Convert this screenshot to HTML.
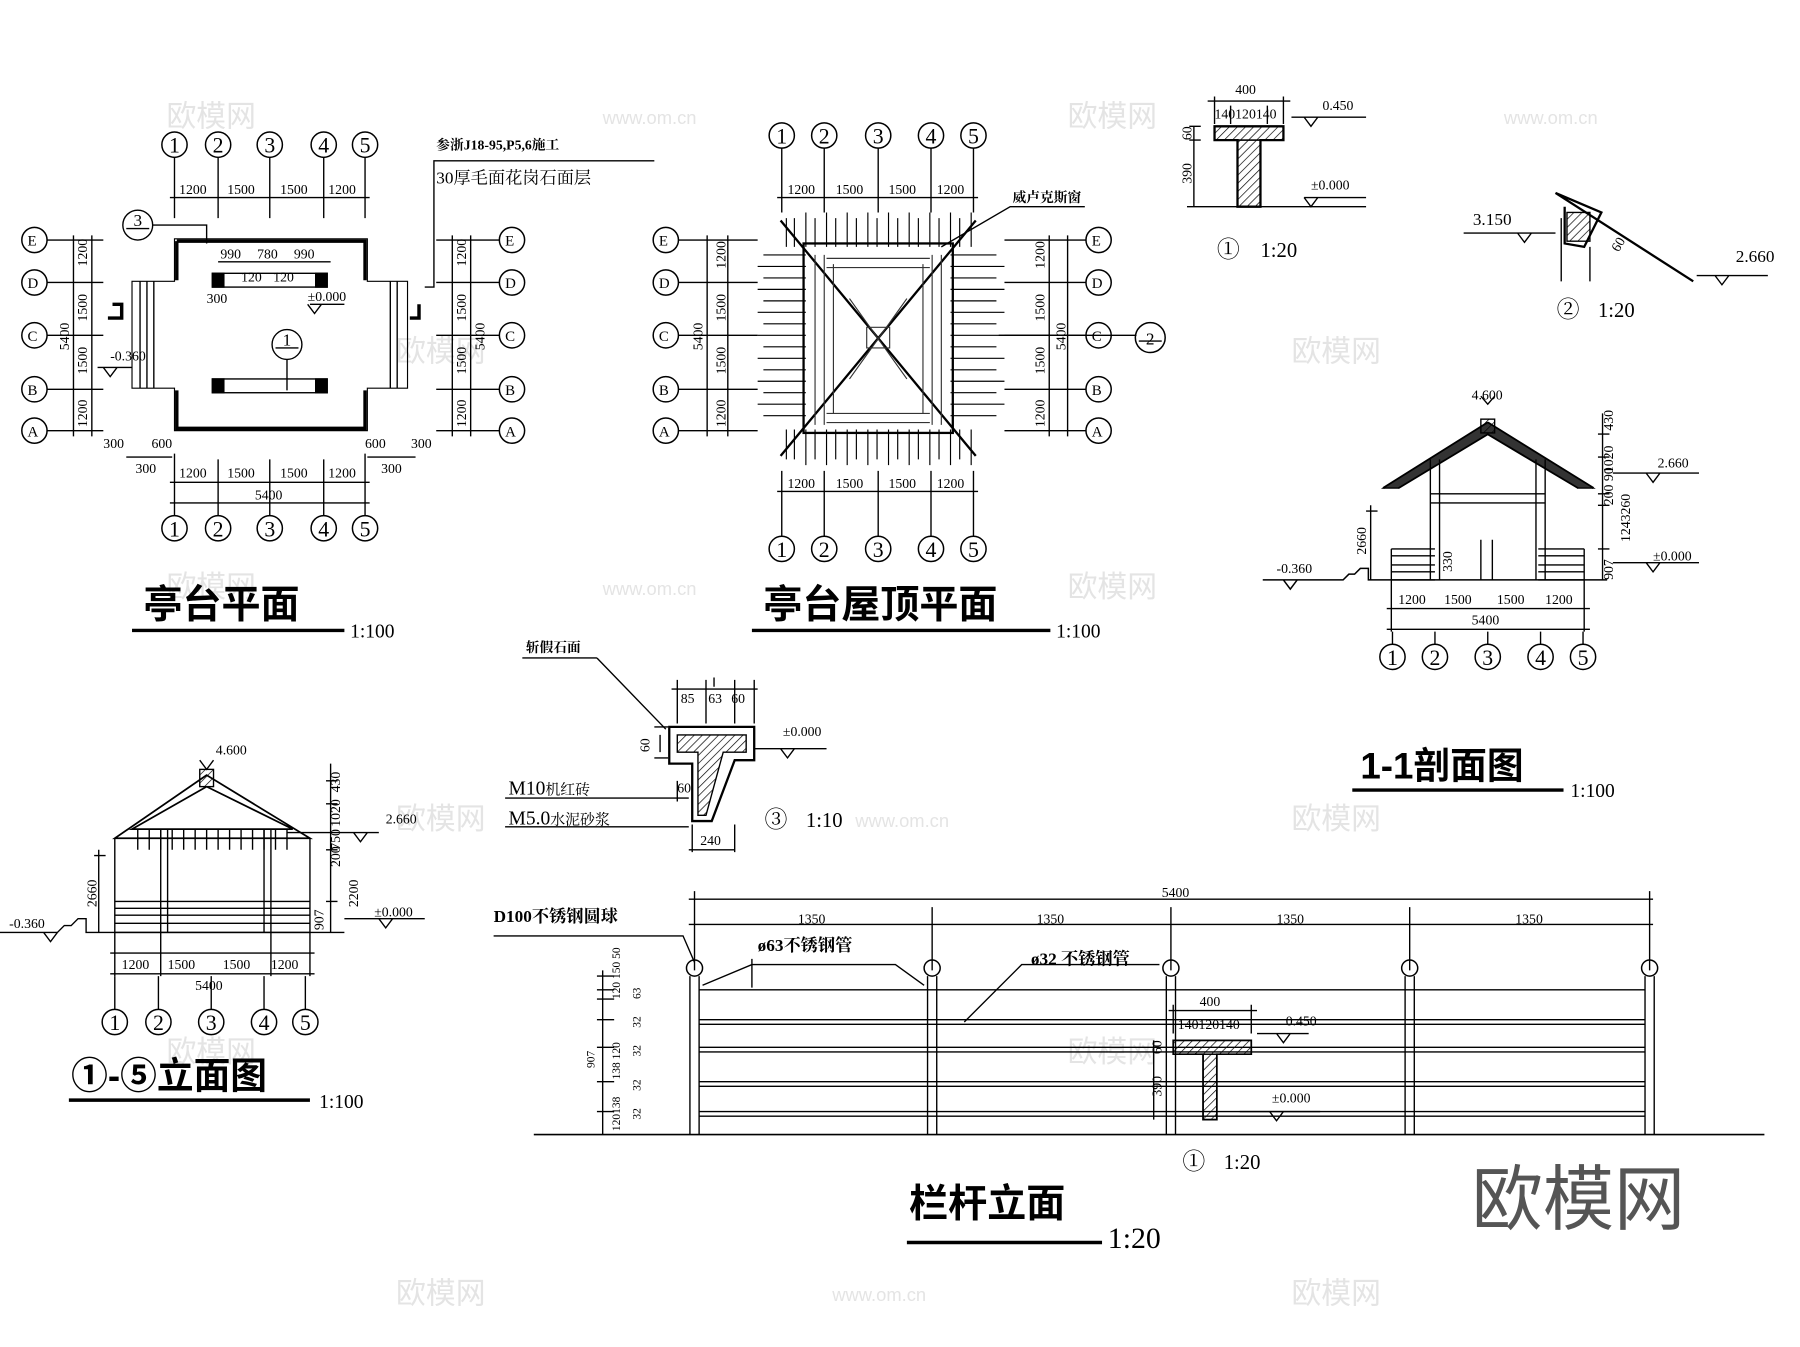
<!DOCTYPE html>
<html><head><meta charset="utf-8"><style>
html,body{margin:0;padding:0;background:#fff}
svg{display:block}
text{font-family:"Liberation Serif","Noto Serif CJK SC",serif;fill:#000}
.s{font-size:13px}
.t{font-size:12px}
.h{font-family:"Liberation Sans","Noto Sans CJK SC",sans-serif;font-weight:bold;font-size:34px}
.c{font-size:20px}
.n{font-size:19px;text-anchor:middle}
.wm{font-family:"Liberation Sans","Noto Sans CJK SC",sans-serif;fill:#e4e4e4;font-size:26px}
</style></head><body>
<svg width="1800" height="1347" viewBox="0 0 1568 1173" preserveAspectRatio="none" xmlns="http://www.w3.org/2000/svg">
<g stroke="#000" fill="none" stroke-width="1.2">

<g stroke="none">
<text class="wm" x="145" y="110">欧模网</text><text class="wm" x="525" y="108" style="font-size:16px">www.om.cn</text>
<text class="wm" x="930" y="110">欧模网</text><text class="wm" x="1310" y="108" style="font-size:16px">www.om.cn</text>
<text class="wm" x="1125" y="315">欧模网</text><text class="wm" x="345" y="315">欧模网</text>
<text class="wm" x="145" y="520">欧模网</text><text class="wm" x="930" y="520">欧模网</text>
<text class="wm" x="525" y="518" style="font-size:16px">www.om.cn</text>
<text class="wm" x="345" y="722">欧模网</text><text class="wm" x="1125" y="722">欧模网</text>
<text class="wm" x="745" y="720" style="font-size:16px">www.om.cn</text>
<text class="wm" x="145" y="925">欧模网</text><text class="wm" x="930" y="925">欧模网</text>
<text class="wm" x="345" y="1135">欧模网</text><text class="wm" x="1125" y="1135">欧模网</text>
<text class="wm" x="725" y="1133" style="font-size:16px">www.om.cn</text>
</g>

<!-- ========== Plan 1 ========== -->
<g id="p1">
<g stroke-width="1.3">
<circle cx="152" cy="126" r="11"/><circle cx="190" cy="126" r="11"/><circle cx="235" cy="126" r="11"/><circle cx="282" cy="126" r="11"/><circle cx="318" cy="126" r="11"/>
<circle cx="152" cy="460" r="11"/><circle cx="190" cy="460" r="11"/><circle cx="235" cy="460" r="11"/><circle cx="282" cy="460" r="11"/><circle cx="318" cy="460" r="11"/>
<circle cx="30" cy="209" r="11"/><circle cx="30" cy="246" r="11"/><circle cx="30" cy="292" r="11"/><circle cx="30" cy="339" r="11"/><circle cx="30" cy="375" r="11"/>
<circle cx="446" cy="209" r="11"/><circle cx="446" cy="246" r="11"/><circle cx="446" cy="292" r="11"/><circle cx="446" cy="339" r="11"/><circle cx="446" cy="375" r="11"/>
</g>
<path d="M152 137V190M190 137V190M235 137V190M282 137V190M318 137V190 M148 172H322"/>
<path d="M152 395V449M190 400V449M235 400V449M282 400V449M318 395V449 M148 420H322 M148 438H322 M110 398H150M320 398H362"/>
<path d="M41 209H90M41 246H90M41 292H90M41 339H90M41 375H90 M64 205V380 M80 205V380"/>
<path d="M435 209H380M435 246H380M435 292H380M435 339H380M435 375H380 M410 205V380 M394 205V380"/>
<path d="M152 208H320V245H355V338H320V375H152V338H115V245H152Z" stroke-width="1"/>
<path d="M154 210H318V244M154 210V244M154 340V373H318V340" stroke-width="3"/>
<path d="M122 245V338M128 245V338M134 245V338 M340 245V338M346 245V338"/>
<rect x="185" y="238" width="100" height="12"/><rect x="185" y="330" width="100" height="12"/>
<rect x="185" y="238" width="10" height="12" fill="#000"/><rect x="275" y="238" width="10" height="12" fill="#000"/>
<rect x="185" y="330" width="10" height="12" fill="#000"/><rect x="275" y="330" width="10" height="12" fill="#000"/>
<path d="M190 228H288"/>
<circle cx="120" cy="196" r="13"/><path d="M110 199H130M133 196H180V212"/>
<circle cx="250" cy="300" r="13"/><path d="M240 303H260M250 313V340"/>
<path d="M98 265h8v12h-12 M365 265v12h-8" stroke-width="3"/>
<path d="M270 265H300 M268 265l6 8 6-8"/>
<path d="M85 320H115 M90 320l6 8 6-8"/>
<path d="M370 250H378V140H570"/>
<g stroke="none">
<text class="n" x="152" y="133">1</text><text class="n" x="190" y="133">2</text><text class="n" x="235" y="133">3</text><text class="n" x="282" y="133">4</text><text class="n" x="318" y="133">5</text>
<text class="n" x="152" y="467">1</text><text class="n" x="190" y="467">2</text><text class="n" x="235" y="467">3</text><text class="n" x="282" y="467">4</text><text class="n" x="318" y="467">5</text>
<text class="n" x="120" y="197" style="font-size:15px">3</text><text class="n" x="250" y="301" style="font-size:15px">1</text>
<text class="s" x="24" y="214">E</text><text class="s" x="24" y="251">D</text><text class="s" x="24" y="297">C</text><text class="s" x="24" y="344">B</text><text class="s" x="24" y="380">A</text>
<text class="s" x="440" y="214">E</text><text class="s" x="440" y="251">D</text><text class="s" x="440" y="297">C</text><text class="s" x="440" y="344">B</text><text class="s" x="440" y="380">A</text>
<text class="t" x="156" y="169">1200</text><text class="t" x="198" y="169">1500</text><text class="t" x="244" y="169">1500</text><text class="t" x="286" y="169">1200</text>
<text class="t" x="156" y="416">1200</text><text class="t" x="198" y="416">1500</text><text class="t" x="244" y="416">1500</text><text class="t" x="286" y="416">1200</text>
<text class="t" x="222" y="435">5400</text>
<text class="t" x="90" y="390">300</text><text class="t" x="132" y="390">600</text><text class="t" x="118" y="412">300</text>
<text class="t" x="318" y="390">600</text><text class="t" x="358" y="390">300</text><text class="t" x="332" y="412">300</text>
<text class="t" x="192" y="225">990</text><text class="t" x="224" y="225">780</text><text class="t" x="256" y="225">990</text>
<text class="t" x="210" y="245">120</text><text class="t" x="238" y="245">120</text>
<text class="t" x="180" y="264">300</text><text class="t" x="268" y="262">±0.000</text><text class="t" x="96" y="314">-0.360</text>
<text class="t" x="380" y="130" style="font-weight:bold">参浙J18-95,P5,6施工</text>
<text class="s" x="380" y="160" style="font-size:15px">30厚毛面花岗石面层</text>
<text class="h" x="125" y="538">亭台平面</text><text class="s" x="305" y="555" style="font-size:17px">1:100</text>
<g class="t"><text transform="translate(76,232) rotate(-90)">1200</text><text transform="translate(76,280) rotate(-90)">1500</text><text transform="translate(76,326) rotate(-90)">1500</text><text transform="translate(76,372) rotate(-90)">1200</text><text transform="translate(60,305) rotate(-90)">5400</text>
<text transform="translate(406,232) rotate(-90)">1200</text><text transform="translate(406,280) rotate(-90)">1500</text><text transform="translate(406,326) rotate(-90)">1500</text><text transform="translate(406,372) rotate(-90)">1200</text><text transform="translate(422,305) rotate(-90)">5400</text></g>
</g>
<path d="M115 549H300" stroke-width="3"/>
</g>

<!-- ========== Roof plan ========== -->
<g>
<g stroke-width="1.3">
<circle cx="681" cy="118" r="11"/><circle cx="718" cy="118" r="11"/><circle cx="765" cy="118" r="11"/><circle cx="811" cy="118" r="11"/><circle cx="848" cy="118" r="11"/>
<circle cx="681" cy="478" r="11"/><circle cx="718" cy="478" r="11"/><circle cx="765" cy="478" r="11"/><circle cx="811" cy="478" r="11"/><circle cx="848" cy="478" r="11"/>
<circle cx="580" cy="209" r="11"/><circle cx="580" cy="246" r="11"/><circle cx="580" cy="292" r="11"/><circle cx="580" cy="339" r="11"/><circle cx="580" cy="375" r="11"/>
<circle cx="957" cy="209" r="11"/><circle cx="957" cy="246" r="11"/><circle cx="957" cy="292" r="11"/><circle cx="957" cy="339" r="11"/><circle cx="957" cy="375" r="11"/>
<circle cx="1002" cy="294" r="13"/>
</g>
<path d="M681 129V185M718 129V185M765 129V185M811 129V185M848 129V185 M677 172H852"/>
<path d="M681 410V467M718 410V467M765 410V467M811 410V467M848 410V467 M677 428H852"/>
<path d="M591 209H660M591 246H660M591 292H660M591 339H660M591 375H660 M616 205V380 M634 205V380"/>
<path d="M946 209H875M946 246H875M946 292H875M946 339H875M946 375H875 M914 205V380 M930 205V380"/>
<path d="M870 292H990 M992 297H1012"/>
<rect x="700" y="212" width="130" height="165" stroke-width="2"/>
<path d="M680 192L850 397M850 192L680 397" stroke-width="2"/>
<g stroke-width="1">
<path d="M685 190V215M692 190V215M702 185V215M710 190V215M720 185V215M728 190V215M738 185V215M746 190V215M756 185V215M764 190V215M774 185V215M782 190V215M792 185V215M800 190V215M810 185V215M818 190V215M828 185V215M836 190V215M846 185V215"/>
<path d="M685 374V400M692 374V400M702 374V405M710 374V400M720 374V405M728 374V400M738 374V405M746 374V400M756 374V405M764 374V400M774 374V405M782 374V400M792 374V405M800 374V400M810 374V405M818 374V400M828 374V405M836 374V400M846 374V405"/>
<path d="M665 222H702M660 232H702M665 242H702M660 252H702M665 262H702M660 272H702M665 282H702M660 292H702M665 302H702M660 312H702M665 322H702M660 332H702M665 342H702M660 352H702M665 362H702"/>
<path d="M828 222H868M828 232H875M828 242H868M828 252H875M828 262H868M828 272H875M828 282H868M828 292H875M828 302H868M828 312H875M828 322H868M828 332H875M828 342H868M828 352H875M828 362H868"/>
<path d="M710 222V370M718 222V370M726 230V360M804 230V360M812 222V370M820 222V370 M720 225H810M720 233H810M720 360H810M720 368H810" stroke="#333"/>
<path d="M755 285h20v18h-20z M740 260L790 330M790 260L740 330" stroke="#333"/>
</g>
<path d="M820 215L880 180H945"/>
<g stroke="none">
<text class="n" x="681" y="125">1</text><text class="n" x="718" y="125">2</text><text class="n" x="765" y="125">3</text><text class="n" x="811" y="125">4</text><text class="n" x="848" y="125">5</text>
<text class="n" x="681" y="485">1</text><text class="n" x="718" y="485">2</text><text class="n" x="765" y="485">3</text><text class="n" x="811" y="485">4</text><text class="n" x="848" y="485">5</text>
<text class="s" x="574" y="214">E</text><text class="s" x="574" y="251">D</text><text class="s" x="574" y="297">C</text><text class="s" x="574" y="344">B</text><text class="s" x="574" y="380">A</text>
<text class="s" x="951" y="214">E</text><text class="s" x="951" y="251">D</text><text class="s" x="951" y="297">C</text><text class="s" x="951" y="344">B</text><text class="s" x="951" y="380">A</text>
<text class="n" x="1002" y="300" style="font-size:15px">2</text>
<text class="t" x="686" y="169">1200</text><text class="t" x="728" y="169">1500</text><text class="t" x="774" y="169">1500</text><text class="t" x="816" y="169">1200</text>
<text class="t" x="686" y="425">1200</text><text class="t" x="728" y="425">1500</text><text class="t" x="774" y="425">1500</text><text class="t" x="816" y="425">1200</text>
<text class="t" x="882" y="176" style="font-weight:bold">威卢克斯窗</text>
<g class="t"><text transform="translate(632,234) rotate(-90)">1200</text><text transform="translate(632,280) rotate(-90)">1500</text><text transform="translate(632,326) rotate(-90)">1500</text><text transform="translate(632,372) rotate(-90)">1200</text><text transform="translate(612,305) rotate(-90)">5400</text>
<text transform="translate(910,234) rotate(-90)">1200</text><text transform="translate(910,280) rotate(-90)">1500</text><text transform="translate(910,326) rotate(-90)">1500</text><text transform="translate(910,372) rotate(-90)">1200</text><text transform="translate(928,305) rotate(-90)">5400</text></g>
<text class="h" x="665" y="538">亭台屋顶平面</text><text class="s" x="920" y="555" style="font-size:17px">1:100</text>
</g>
<path d="M655 549H915" stroke-width="3"/>
</g>

<!-- ========== Detail 1 top ========== -->
<g>
<path d="M1058 110H1118V122H1098V180H1078V122H1058Z" stroke-width="2"/>
<rect x="1058" y="110" width="60" height="12" fill="url(#hat)"/>
<path d="M1078 122H1098V180H1078Z" fill="url(#hat)"/>
<path d="M1052 88H1124M1058 84V108M1072 92V108M1104 92V108M1118 84V108 M1040 110V180 M1036 122H1046 M1036 110H1046 M1034 180H1190"/>
<path d="M1125 102H1190 M1136 102l6 8 6-8 M1136 172H1190 M1136 172l6 8 6-8"/>
<g stroke="none">
<text class="t" x="1076" y="82">400</text><text class="t" x="1058" y="103">140120140</text>
<text class="t" x="1152" y="96">0.450</text><text class="t" x="1142" y="165">±0.000</text>
<text class="t" transform="translate(1038,122) rotate(-90)">60</text><text class="t" transform="translate(1038,160) rotate(-90)">390</text>
<text class="c" x="1060" y="224">①</text><text class="s" x="1098" y="224" style="font-size:18px">1:20</text>
</g>
<path d="M1355 168L1475 245 M1355 168L1395 185L1380 215L1363 212V180" stroke-width="2"/>
<path d="M1365 185H1385V210H1365Z" fill="url(#hat)"/>
<path d="M1275 203H1355 M1322 203l6 8 6-8 M1360 190V245 M1385 215V245 M1478 240H1540 M1494 240l6 8 6-8"/>
<g stroke="none">
<text class="s" x="1283" y="196" style="font-size:15px">3.150</text><text class="s" x="1512" y="228" style="font-size:15px">2.660</text>
<text class="t" transform="translate(1410,220) rotate(-60)">60</text>
<text class="c" x="1356" y="276">②</text><text class="s" x="1392" y="276" style="font-size:18px">1:20</text>
</g>
</g>

<defs><pattern id="hat" width="5" height="5" patternUnits="userSpaceOnUse" patternTransform="rotate(45)"><path d="M0 0V5" stroke="#000" stroke-width="1.2"/></pattern></defs>

<!-- ========== 1-1 Section ========== -->
<g>
<path d="M1296 368L1205 425M1296 368L1388 425 M1296 378L1218 425M1296 378L1375 425" stroke-width="2"/>
<path d="M1205 425L1218 425L1296 378L1375 425L1388 425L1296 368Z" fill="#333"/>
<rect x="1290" y="365" width="12" height="12" fill="url(#hat)"/>
<path d="M1246 400V505M1254 400V505M1338 400V505M1346 400V505 M1246 430H1346M1246 438H1346"/>
<path d="M1212 478H1250M1212 484H1250M1212 492H1250M1212 498H1250M1212 505H1250 M1212 478V505 M1340 478H1380M1340 484H1380M1340 492H1380M1340 498H1380M1340 505H1380M1380 478V505"/>
<path d="M1290 470V505M1300 470V505"/>
<path d="M1100 505H1170L1175 500H1180L1185 495H1192V505H1400 M1118 505l6 8 6-8" stroke-width="1.3"/>
<path d="M1194 440V505 M1190 445H1200 M1212 505V550 M1380 505V550 M1208 530H1385 M1208 548H1385"/>
<path d="M1396 360V505 M1392 378H1402M1392 398H1402M1392 430H1402M1392 440H1402M1392 478H1402 M1405 412H1480 M1434 412l6 8 6-8 M1405 490H1480 M1434 490l6 8 6-8"/>
<g stroke-width="1.3"><circle cx="1213" cy="572" r="11"/><circle cx="1250" cy="572" r="11"/><circle cx="1296" cy="572" r="11"/><circle cx="1342" cy="572" r="11"/><circle cx="1379" cy="572" r="11"/></g>
<path d="M1213 550V561M1250 550V561M1296 550V561M1342 550V561M1379 550V561"/>
<g stroke="none">
<text class="n" x="1213" y="579">1</text><text class="n" x="1250" y="579">2</text><text class="n" x="1296" y="579">3</text><text class="n" x="1342" y="579">4</text><text class="n" x="1379" y="579">5</text>
<text class="t" x="1282" y="348">4.600</text><text class="t" x="1444" y="407">2.660</text><text class="t" x="1440" y="488">±0.000</text>
<text class="t" x="1112" y="499">-0.360</text>
<text class="t" x="1218" y="526">1200</text><text class="t" x="1258" y="526">1500</text><text class="t" x="1304" y="526">1500</text><text class="t" x="1346" y="526">1200</text><text class="t" x="1282" y="544">5400</text>
<g class="t"><text transform="translate(1190,483) rotate(-90)">2660</text><text transform="translate(1405,375) rotate(-90)">430</text><text transform="translate(1405,412) rotate(-90)">1020</text><text transform="translate(1405,440) rotate(-90)">200 90</text><text transform="translate(1420,472) rotate(-90)">1243260</text><text transform="translate(1405,505) rotate(-90)">907</text><text transform="translate(1265,498) rotate(-90)">330</text></g>
<text class="h" x="1185" y="678" style="font-size:32px">1-1剖面图</text><text class="s" x="1368" y="694" style="font-size:17px">1:100</text>
</g>
<path d="M1178 688H1362" stroke-width="3"/>
<path d="M1290 345L1296 352L1302 345"/>
</g>

<!-- ========== Elevation 1-5 ========== -->
<g>
<path d="M180 675L100 730H270Z M180 685L115 722H255L180 685" stroke-width="1.5"/>
<rect x="174" y="670" width="12" height="15" fill="url(#hat)"/>
<path d="M120 722V740M130 722V740M140 722V740M150 722V740M160 722V740M170 722V740M180 722V740M190 722V740M200 722V740M210 722V740M220 722V740M230 722V740M240 722V740M250 722V740"/>
<path d="M140 722V812M146 722V812M230 722V812M236 722V812 M100 730V812 M270 730V812"/>
<path d="M100 785H270M100 791H270M100 797H270M100 804H270M100 812H270"/>
<path d="M0 812H50L56 806H62L68 800H75V812H300 M38 812l6 8 6-8"/>
<path d="M86 740V812 M82 745H92 M100 812V850M140 812V850M236 812V850M270 812V850 M96 830H274 M96 848H274"/>
<path d="M288 665V812 M284 680H294M284 700H294M284 725H294M284 740H294M284 785H294 M250 725H330 M308 725l6 8 6-8 M300 800H370 M330 800l6 8 6-8"/>
<path d="M174 662L180 670L186 662"/>
<g stroke-width="1.3"><circle cx="100" cy="890" r="11"/><circle cx="138" cy="890" r="11"/><circle cx="184" cy="890" r="11"/><circle cx="230" cy="890" r="11"/><circle cx="266" cy="890" r="11"/></g>
<path d="M100 850V879M138 850V879M184 850V879M230 850V879M266 850V879"/>
<g stroke="none">
<text class="n" x="100" y="897">1</text><text class="n" x="138" y="897">2</text><text class="n" x="184" y="897">3</text><text class="n" x="230" y="897">4</text><text class="n" x="266" y="897">5</text>
<text class="t" x="188" y="657">4.600</text><text class="t" x="336" y="717">2.660</text><text class="t" x="326" y="798">±0.000</text><text class="t" x="8" y="808">-0.360</text>
<text class="t" x="106" y="844">1200</text><text class="t" x="146" y="844">1500</text><text class="t" x="194" y="844">1500</text><text class="t" x="236" y="844">1200</text><text class="t" x="170" y="862">5400</text>
<g class="t"><text transform="translate(84,790) rotate(-90)">2660</text><text transform="translate(296,690) rotate(-90)">430</text><text transform="translate(296,720) rotate(-90)">1020</text><text transform="translate(296,740) rotate(-90)">750</text><text transform="translate(296,755) rotate(-90)">200</text><text transform="translate(312,790) rotate(-90)">2200</text><text transform="translate(282,810) rotate(-90)">907</text></g>
<text class="h" x="62" y="948" style="font-size:32px">①-⑤立面图</text><text class="s" x="278" y="965" style="font-size:17px">1:100</text>
</g>
<path d="M60 958H270" stroke-width="3"/>
</g>

<!-- ========== Detail 3 ========== -->
<g>
<path d="M583 633H657V662H640L620 715H603V665H583Z" stroke-width="2"/>
<path d="M590 640H650V655H630L615 710H608V655H590Z" fill="url(#hat)"/>
<path d="M585 600H660 M590 592V630M615 592V630M640 592V630M657 592V630 M622 590V598 M575 640V655 M570 633H582 M570 660H582 M590 680V698 M600 740H640 M603 718V742M640 718V742 M657 652H720 M680 652l6 8 6-8"/>
<path d="M520 573H455 M520 573L580 635 M440 695H600 M440 720H600"/>
<g stroke="none">
<text class="t" x="458" y="568" style="font-weight:bold">斩假石面</text>
<text class="t" x="593" y="612">85</text><text class="t" x="617" y="612">63</text><text class="t" x="637" y="612">60</text>
<text class="t" transform="translate(566,655) rotate(-90)">60</text><text class="t" x="590" y="690">60</text>
<text class="t" x="682" y="641">±0.000</text><text class="t" x="610" y="736">240</text>
<text class="s" x="443" y="692" style="font-size:17px">M10<tspan style="font-size:13px">机红砖</tspan></text>
<text class="s" x="443" y="718" style="font-size:17px">M5.0<tspan style="font-size:13px">水泥砂浆</tspan></text>
<text class="c" x="666" y="720">③</text><text class="s" x="702" y="720" style="font-size:18px">1:10</text>
</g>
</g>

<!-- ========== Railing elevation ========== -->
<g>
<path d="M465 988H1537" stroke-width="1.5"/>
<path d="M600 783H1440 M605 776V845M812 790V845M1020 790V845M1228 790V845M1437 776V845 M600 805H1440"/>
<g stroke-width="1.3"><circle cx="605" cy="843" r="7"/><circle cx="812" cy="843" r="7"/><circle cx="1020" cy="843" r="7"/><circle cx="1228" cy="843" r="7"/><circle cx="1437" cy="843" r="7"/></g>
<path d="M601 850V988M609 850V988M808 850V988M816 850V988M1016 850V988M1024 850V988M1224 850V988M1232 850V988M1433 850V988M1441 850V988"/>
<path d="M612 858L655 840H780L805 858 M609 862H1433"/>
<path d="M609 888H1433M609 892H1433 M609 912H1433M609 916H1433 M609 942H1433M609 946H1433 M609 968H1433M609 972H1433"/>
<path d="M430 815H595L605 838 M655 835V860 M840 890L890 840H1010"/>
<path d="M525 845V988 M520 850H535M520 862H535M520 870H535M520 888H535M520 912H535M520 942H535M520 968H535"/>
<rect x="1022" y="906" width="68" height="12" fill="url(#hat)"/>
<path d="M1022 906H1090V918H1060V975H1048V918H1022Z" stroke-width="1.5"/>
<rect x="1048" y="918" width="12" height="57" fill="url(#hat)"/>
<path d="M1018 880H1095M1022 875V900M1090 875V900 M1005 906V975 M1095 900H1140 M1112 900l6 8 6-8 M1080 968H1150 M1106 968l6 8 6-8"/>
<g stroke="none">
<text class="t" x="1012" y="781">5400</text>
<text class="t" x="695" y="804">1350</text><text class="t" x="903" y="804">1350</text><text class="t" x="1112" y="804">1350</text><text class="t" x="1320" y="804">1350</text>
<text class="s" x="430" y="803" style="font-weight:bold;font-size:15px">D100不锈钢圆球</text>
<text class="s" x="660" y="828" style="font-weight:bold;font-size:15px">ø63不锈钢管</text>
<text class="s" x="898" y="840" style="font-weight:bold;font-size:15px">ø32 不锈钢管</text>
<g class="t" style="font-size:10px"><text transform="translate(518,930) rotate(-90)">907</text><text transform="translate(540,870) rotate(-90)">120 150 50</text><text transform="translate(540,940) rotate(-90)">138 120</text><text transform="translate(540,985) rotate(-90)">120138</text><text transform="translate(558,870) rotate(-90)">63</text><text transform="translate(558,895) rotate(-90)">32</text><text transform="translate(558,920) rotate(-90)">32</text><text transform="translate(558,950) rotate(-90)">32</text><text transform="translate(558,975) rotate(-90)">32</text></g>
<text class="t" x="1045" y="876">400</text><text class="t" x="1026" y="896">140120140</text>
<text class="t" x="1120" y="893">0.450</text><text class="t" x="1108" y="960">±0.000</text>
<text class="t" transform="translate(1012,918) rotate(-90)">60</text><text class="t" transform="translate(1012,955) rotate(-90)">390</text>
<text class="c" x="1030" y="1018">①</text><text class="s" x="1066" y="1018" style="font-size:18px">1:20</text>
<text class="h" x="792" y="1060">栏杆立面</text><text class="s" x="965" y="1087" style="font-size:26px">1:20</text>
<text style="font-family:'Liberation Sans','Noto Sans CJK SC',sans-serif;font-size:62px;fill:#555" x="1282" y="1066">欧模网</text>
</g>
<path d="M790 1082H960" stroke-width="3"/>
</g>

</g>
</svg>
</body></html>
